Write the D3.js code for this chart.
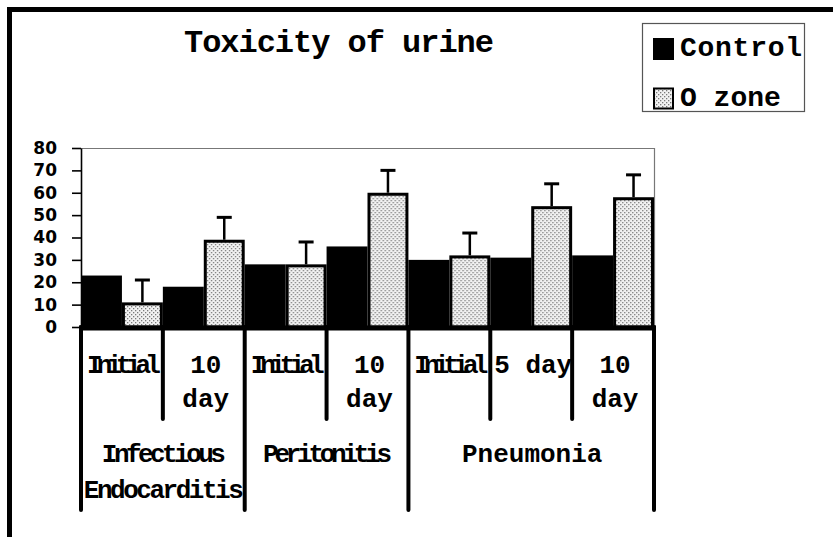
<!DOCTYPE html>
<html>
<head>
<meta charset="utf-8">
<script src="https://cdn.jsdelivr.net/npm/d3@7"></script>
<style>
  body { margin: 0; background: #fff; }
  svg { display: block; }
  .mono { font-family: "Liberation Mono", "Courier New", monospace; font-weight: bold; }
  .y.axis text { font-family: "DejaVu Sans", sans-serif; font-weight: bold; font-size: 17px; fill: #000; }
</style>
</head>
<body>
<div class="chart"></div>
<script>
const width  = 833;
const height = 537;
const margin = { top: 148, right: 178, bottom: 210, left: 81 };

const categories = [ "Initial", "10 day", "Initial", "10 day", "Initial", "5 day", "10 day" ];
const categoryLines = [ [ "Initial" ], [ "10", "day" ], [ "Initial" ], [ "10", "day" ], [ "Initial" ], [ "5 day" ], [ "10", "day" ] ];
const groups = [ "Infectious Endocarditis", "Peritonitis", "Pneumonia" ];
const groupLines = [ [ "Infectious", "Endocarditis" ], [ "Peritonitis" ], [ "Pneumonia" ] ];
const groupSizes = [ 2, 2, 3 ];
const series = [ "Control", "Ozone" ];
const legendLabels = [ "Control", "O zone" ];
const control = [ 23, 18, 28, 36, 30, 31, 32 ];
const ozone = [ 11, 39, 28, 60, 32, 54, 58 ];
const ozoneErr = [ 10, 10, 10, 10, 10, 10, 10 ];
const yTicks = [ 0, 10, 20, 30, 40, 50, 60, 70, 80 ];

// squeezed widths of the cramped labels in the picture
const squeeze = { "Initial": 74, "Infectious": 124, "Endocarditis": 160, "Peritonitis": 129, "Control": 122 };

const svg = d3.select( ".chart" )
  .append( "svg" )
    .attr( "width", width )
    .attr( "height", height );

const defs = svg.append( "defs" );
const pat = defs.append( "pattern" )
  .attr( "id", "stipple" )
  .attr( "width", 4 )
  .attr( "height", 4 )
  .attr( "patternUnits", "userSpaceOnUse" );
pat.append( "rect" ).attr( "width", 4 ).attr( "height", 4 ).attr( "fill", "#f2f2f2" );
pat.append( "rect" ).attr( "x", 0 ).attr( "y", 0 ).attr( "width", 1.3 ).attr( "height", 1.3 ).attr( "fill", "#7a7a7a" );
pat.append( "rect" ).attr( "x", 2 ).attr( "y", 2 ).attr( "width", 1.3 ).attr( "height", 1.3 ).attr( "fill", "#7a7a7a" );

// outer frame
svg.append( "path" )
  .attr( "d", `M9.5,${ height } V9.5 H${ width }` )
  .attr( "fill", "none" )
  .attr( "stroke", "#000" )
  .attr( "stroke-width", 5 );

svg.append( "text" )
  .attr( "class", "mono" )
  .attr( "x", 339 )
  .attr( "y", 52 )
  .attr( "text-anchor", "middle" )
  .attr( "font-size", 32 )
  .attr( "textLength", 310 )
  .attr( "lengthAdjust", "spacing" )
  .text( "Toxicity of urine" );

const x0 = margin.left;
const x1 = width - margin.right - 1;
const yBase = height - margin.bottom;

const xScale = d3.scaleBand()
  .domain( d3.range( categories.length ) )
  .range( [ x0, x1 ] )
  .paddingInner( 0 );

const xSeries = d3.scaleBand()
  .domain( series )
  .range( [ 0, xScale.bandwidth() ] );

const yScale = d3.scaleLinear()
  .domain( [ 0, 80 ] )
  .range( [ yBase, margin.top ] );

// plot frame (top and right)
svg.append( "path" )
  .attr( "d", `M${ x0 },${ margin.top + 0.5 } H${ x1 + 0.5 } V${ yBase }` )
  .attr( "fill", "none" )
  .attr( "stroke", "#777" )
  .attr( "stroke-width", 1.2 );

const yAxis = d3.axisLeft( yScale )
  .tickValues( yTicks )
  .tickSize( 9 )
  .tickPadding( 15 )
  .tickSizeOuter( 0 );

const gy = svg.append( "g" )
  .attr( "class", "y axis" )
  .attr( "transform", `translate( ${ x0 }, 0 )` )
  .call( yAxis );
gy.select( ".domain" ).attr( "stroke", "#000" ).attr( "stroke-width", 1.6 );
gy.selectAll( ".tick line" ).attr( "stroke", "#000" ).attr( "stroke-width", 1.6 );

const row = svg.selectAll( "g.cat" )
  .data( categories )
  .enter()
    .append( "g" )
    .attr( "class", "cat" )
    .attr( "transform", ( d, i ) => `translate( ${ xScale( i ) }, 0 )` );

row.append( "rect" )
  .attr( "x", xSeries( "Control" ) )
  .attr( "y", ( d, i ) => yScale( control[ i ] ) )
  .attr( "width", xSeries.bandwidth() )
  .attr( "height", ( d, i ) => yBase - yScale( control[ i ] ) )
  .attr( "fill", "#000" );

row.append( "rect" )
  .attr( "x", xSeries( "Ozone" ) + 1.5 )
  .attr( "y", ( d, i ) => yScale( ozone[ i ] ) + 1.5 )
  .attr( "width", xSeries.bandwidth() - 3 )
  .attr( "height", ( d, i ) => yBase - yScale( ozone[ i ] ) - 1.5 )
  .attr( "fill", "url(#stipple)" )
  .attr( "stroke", "#000" )
  .attr( "stroke-width", 3 );

const errX = xSeries( "Ozone" ) + xSeries.bandwidth() / 2;
row.append( "line" )
  .attr( "x1", errX ).attr( "x2", errX )
  .attr( "y1", ( d, i ) => yScale( ozone[ i ] ) )
  .attr( "y2", ( d, i ) => yScale( ozone[ i ] + ozoneErr[ i ] ) )
  .attr( "stroke", "#000" )
  .attr( "stroke-width", 2.5 );

row.append( "line" )
  .attr( "x1", errX - 7.5 ).attr( "x2", errX + 7.5 )
  .attr( "y1", ( d, i ) => yScale( ozone[ i ] + ozoneErr[ i ] ) )
  .attr( "y2", ( d, i ) => yScale( ozone[ i ] + ozoneErr[ i ] ) )
  .attr( "stroke", "#000" )
  .attr( "stroke-width", 3 );

// category labels
row.each( function( d, i ) {
  const g = d3.select( this );
  categoryLines[ i ].forEach( ( line, j ) => {
    const t = g.append( "text" )
      .attr( "class", "mono" )
      .attr( "x", xScale.bandwidth() / 2 + 2 )
      .attr( "y", 373 + j * 34 )
      .attr( "text-anchor", "middle" )
      .attr( "font-size", 26 )
      .text( line );
    if ( squeeze[ line ] ) t.attr( "textLength", squeeze[ line ] ).attr( "lengthAdjust", "spacing" );
  } );
} );

// group labels and dividers
let start = 0;
const bounds = [ 0 ];
groups.forEach( ( grp, k ) => {
  const end = start + groupSizes[ k ];
  const left = xScale( start );
  const right = end < categories.length ? xScale( end ) : x1;
  groupLines[ k ].forEach( ( line, j ) => {
    const t = svg.append( "text" )
      .attr( "class", "mono" )
      .attr( "x", ( left + right ) / 2 + 1 )
      .attr( "y", 462 + j * 36 )
      .attr( "text-anchor", "middle" )
      .attr( "font-size", 26 )
      .text( line );
    if ( squeeze[ line ] ) t.attr( "textLength", squeeze[ line ] ).attr( "lengthAdjust", "spacing" );
  } );
  bounds.push( end );
  start = end;
} );

// baseline
svg.append( "line" )
  .attr( "x1", x0 - 2 ).attr( "x2", x1 + 2 )
  .attr( "y1", yBase + 1 ).attr( "y2", yBase + 1 )
  .attr( "stroke", "#000" )
  .attr( "stroke-width", 5 );

d3.range( categories.length + 1 ).forEach( i => {
  const xv = i < categories.length ? xScale( i ) : x1;
  const long = bounds.includes( i );
  svg.append( "line" )
    .attr( "x1", xv ).attr( "x2", xv )
    .attr( "y1", yBase )
    .attr( "y2", long ? 510 : 419 )
    .attr( "stroke", "#000" )
    .attr( "stroke-width", 4 )
    .attr( "stroke-linecap", "round" );
} );

// legend
const legend = svg.append( "g" ).attr( "class", "legend" );
legend.append( "rect" )
  .attr( "x", 642.5 ).attr( "y", 23.5 )
  .attr( "width", 162 ).attr( "height", 88 )
  .attr( "fill", "#fff" )
  .attr( "stroke", "#555" )
  .attr( "stroke-width", 1.2 );

series.forEach( ( s, i ) => {
  const ly = 38 + i * 49.5;
  legend.append( "rect" )
    .attr( "x", s === "Ozone" ? 654 : 653 )
    .attr( "y", s === "Ozone" ? ly + 1 : ly )
    .attr( "width", s === "Ozone" ? 19 : 21 )
    .attr( "height", s === "Ozone" ? 20 : 22 )
    .attr( "fill", s === "Ozone" ? "url(#stipple)" : "#000" )
    .attr( "stroke", "#000" )
    .attr( "stroke-width", s === "Ozone" ? 2 : 0 );
  const t = legend.append( "text" )
    .attr( "class", "mono" )
    .attr( "x", 680 )
    .attr( "y", ly + 18 )
    .attr( "font-size", 28 )
    .text( legendLabels[ i ] );
  if ( squeeze[ legendLabels[ i ] ] ) t.attr( "textLength", squeeze[ legendLabels[ i ] ] ).attr( "lengthAdjust", "spacing" );
} );
</script>
</body>
</html>
